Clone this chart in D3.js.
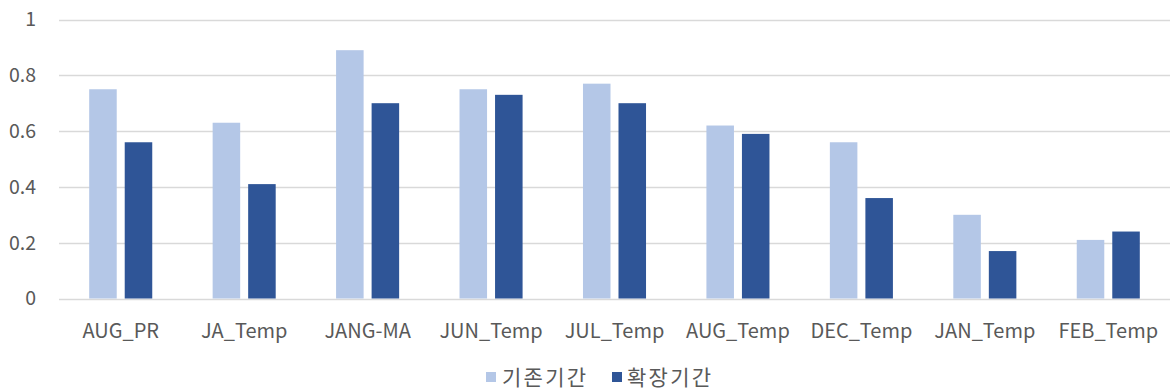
<!DOCTYPE html>
<html>
<head>
<meta charset="utf-8">
<script src="https://cdn.jsdelivr.net/npm/d3@7"></script>
<style>
  html, body { margin: 0; padding: 0; background: #fff; }
  svg { display: block; }
  text { font-family: "Noto Sans CJK KR", "Noto Sans", sans-serif; fill: #595959; }
</style>
</head>
<body>
<svg id="chart" width="1172" height="391"></svg>
<script>
const categories = ["AUG_PR", "JA_Temp", "JANG-MA", "JUN_Temp", "JUL_Temp", "AUG_Temp", "DEC_Temp", "JAN_Temp", "FEB_Temp"];
const seriesNames = ["기존기간", "확장기간"];
const baseValues = [0.75, 0.63, 0.89, 0.75, 0.77, 0.62, 0.56, 0.30, 0.21];
const extValues  = [0.56, 0.41, 0.70, 0.73, 0.70, 0.59, 0.36, 0.17, 0.24];
const yTicks = [0, 0.2, 0.4, 0.6, 0.8, 1];
const yTickLabels = ["0", "0.2", "0.4", "0.6", "0.8", "1"];
const colors = ["#b4c7e7", "#2f5597"];

const svg = d3.select("#chart");
const mLeft = 59, mRight = 1170, mTop = 19.5, mBottom = 298.5;

const x0 = d3.scaleBand().domain(categories).range([mLeft, mRight]).paddingInner(0).paddingOuter(0);
const x1 = d3.scaleBand().domain(seriesNames).range([0, x0.bandwidth()]).paddingInner(0.225).paddingOuter(0.85);
const y = d3.scaleLinear().domain([0, 1]).range([mBottom, mTop]);
const color = d3.scaleOrdinal().domain(seriesNames).range(colors);

// gridlines
svg.append("g").selectAll("line").data(yTicks).join("line")
  .attr("x1", mLeft).attr("x2", mRight)
  .attr("y1", d => Math.round(y(d)) + 0.5).attr("y2", d => Math.round(y(d)) + 0.5)
  .attr("stroke", "#d9d9d9").attr("stroke-width", 1.3);

// y tick labels
svg.append("g").selectAll("text").data(yTicks).join("text")
  .attr("x", 36).attr("y", d => y(d))
  .attr("dy", "0.35em")
  .attr("text-anchor", "end")
  .attr("font-size", 19.5)
  .text((d, i) => yTickLabels[i]);

// bars
const rows = categories.map((c, i) => ({ cat: c, vals: [baseValues[i], extValues[i]] }));
const groups = svg.append("g").selectAll("g").data(rows).join("g")
  .attr("transform", d => `translate(${x0(d.cat)},0)`);
groups.selectAll("rect").data(d => seriesNames.map((s, j) => ({ s, v: d.vals[j] }))).join("rect")
  .attr("x", d => x1(d.s))
  .attr("width", x1.bandwidth())
  .attr("y", d => y(d.v))
  .attr("height", d => y(0) - y(d.v))
  .attr("fill", d => color(d.s));

// x labels
svg.append("g").selectAll("text").data(categories).join("text")
  .attr("x", d => x0(d) + x0.bandwidth() / 2)
  .attr("y", 331)
  .attr("dy", "0.35em")
  .attr("text-anchor", "middle")
  .attr("font-size", 20)
  .text(d => d);

// legend
const legendItems = [{ name: seriesNames[0], sx: 486, tx: 502 }, { name: seriesNames[1], sx: 612, tx: 627 }];
const lg = svg.append("g");
lg.selectAll("rect").data(legendItems).join("rect")
  .attr("x", d => d.sx).attr("y", 372).attr("width", 10).attr("height", 10)
  .attr("fill", d => color(d.name));
lg.selectAll("text").data(legendItems).join("text")
  .attr("x", d => d.tx).attr("y", 378)
  .attr("dy", "0.35em")
  .attr("font-size", 21)
  .attr("letter-spacing", 2.3)
  .text(d => d.name);
</script>
</body>
</html>
